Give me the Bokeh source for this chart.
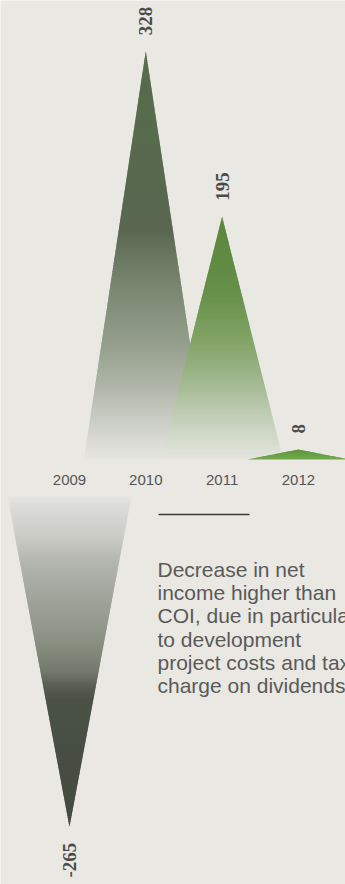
import math
from bokeh.plotting import figure
from bokeh.models import Range1d, ColumnDataSource
from bokeh.core.properties import value
from bokeh.embed import file_html
from bokeh.resources import INLINE

# ---------------- data ----------------
years = ["2009", "2010", "2011", "2012"]
net_change = [-265, 328, 195, 8]
note_lines = [
    "Decrease in net",
    "income higher than",
    "COI, due in particular",
    "to development",
    "project costs and tax",
    "charge on dividends",
]

# ---------------- style ----------------
BG = "#E9E8E3"
half_widths = [0.81, 0.81, 0.80, 0.67]   # in category units
neg_gap = 30                              # gap below axis for negative spikes
stops = [
    [(0.0, "#E4E4E0"), (0.03, "#DCDCD8"), (0.13, "#C8C9C4"), (0.19, "#B6B7B2"),
     (0.31, "#A0A399"), (0.43, "#8C9285"), (0.53, "#737A6C"), (0.57, "#5A6054"),
     (0.61, "#4B5146"), (1.0, "#454A40")],
    [(0.0, "#E6E6E1"), (0.02, "#E0E1DB"), (0.10, "#C9CCC3"), (0.18, "#AFB6A8"),
     (0.29, "#939D8B"), (0.41, "#7C8974"), (0.50, "#68775F"), (0.56, "#5A6751"),
     (0.70, "#586A4F"), (1.0, "#566C4B")],
    [(0.0, "#E4E5DF"), (0.05, "#DADFD3"), (0.17, "#C3CFB9"), (0.34, "#9DB58B"),
     (0.51, "#7FA263"), (0.68, "#67904A"), (0.85, "#5F8A42"), (1.0, "#5C873E")],
    [(0.0, "#72A84E"), (1.0, "#5C963A")],
]


def hex2rgb(h):
    h = h.lstrip("#")
    return tuple(int(h[i:i + 2], 16) for i in (0, 2, 4))


def interp(st, t):
    for (t0, c0), (t1, c1) in zip(st, st[1:]):
        if t <= t1:
            f = 0 if t1 == t0 else (t - t0) / (t1 - t0)
            a, b = hex2rgb(c0), hex2rgb(c1)
            return "#%02x%02x%02x" % tuple(round(a[k] + (b[k] - a[k]) * f) for k in range(3))
    return st[-1][1]


p = figure(width=345, height=884,
           x_range=Range1d(-0.904, 3.617), y_range=Range1d(-341.4, 368.7),
           output_backend="svg", toolbar_location=None,
           x_axis_type=None, y_axis_type=None, min_border=0,
           background_fill_color=BG, border_fill_color=BG,
           outline_line_color=None)
p.grid.visible = False

# ---------------- gradient spikes (sliced into bands) ----------------
xs, ys, cols = [], [], []
for i, v in enumerate(net_change):
    base = 0 if v >= 0 else -neg_gap
    h = v
    w = half_widths[i]
    n = max(8, int(abs(h) / 1.6))
    for k in range(n):
        t0, t1 = k / n, (k + 1) / n
        t1e = min(1.0, t1 + 0.6 / n)  # slight overlap to hide seams
        y0, y1 = base + h * t0, base + h * t1e
        w0, w1 = w * (1 - t0), w * (1 - t1e)
        xs.append([i - w0, i + w0, i + w1, i - w1])
        ys.append([y0, y0, y1, y1])
        cols.append(interp(stops[i], (t0 + t1) / 2))

p.patches(xs="xs", ys="ys", fill_color="cols", line_color=None,
          source=ColumnDataSource(dict(xs=xs, ys=ys, cols=cols)))

# ---------------- value labels (rotated) ----------------
pos_i = [i for i, v in enumerate(net_change) if v >= 0]
neg_i = [i for i, v in enumerate(net_change) if v < 0]
p.text(x=pos_i, y=[net_change[i] for i in pos_i], text=[str(net_change[i]) for i in pos_i],
       angle=math.pi / 2, y_offset=-16, text_align="left", text_baseline="middle",
       text_font=value("Liberation Serif"), text_font_style="bold",
       text_font_size="19px", text_color="#4A4B4A")
p.text(x=neg_i, y=[net_change[i] - neg_gap for i in neg_i], text=[str(net_change[i]) for i in neg_i],
       angle=math.pi / 2, y_offset=16, text_align="right", text_baseline="middle",
       text_font=value("Liberation Serif"), text_font_style="bold",
       text_font_size="19px", text_color="#4A4B4A")

# ---------------- year labels ----------------
p.text(x=list(range(len(years))), y=[0] * len(years), text=years, y_offset=21,
       text_align="center", text_baseline="alphabetic",
       text_font=value("Liberation Sans"), text_font_size="15px", text_color="#555555")

# ---------------- rule and note ----------------
p.segment(x0=[1.167], y0=[-44.2], x1=[2.359], y1=[-44.2], line_color="#3A3A3A", line_width=1.5)

p.text(x=[0] * len(note_lines), y=[0] * len(note_lines), text=note_lines,
       x_offset=88, y_offset=[110 + 23.2 * k for k in range(len(note_lines))],
       text_align="left", text_baseline="alphabetic",
       text_font=value("Liberation Sans"), text_font_size="21px", text_color="#5A5A5A")

open("out.html", "w").write(file_html(p, INLINE))
